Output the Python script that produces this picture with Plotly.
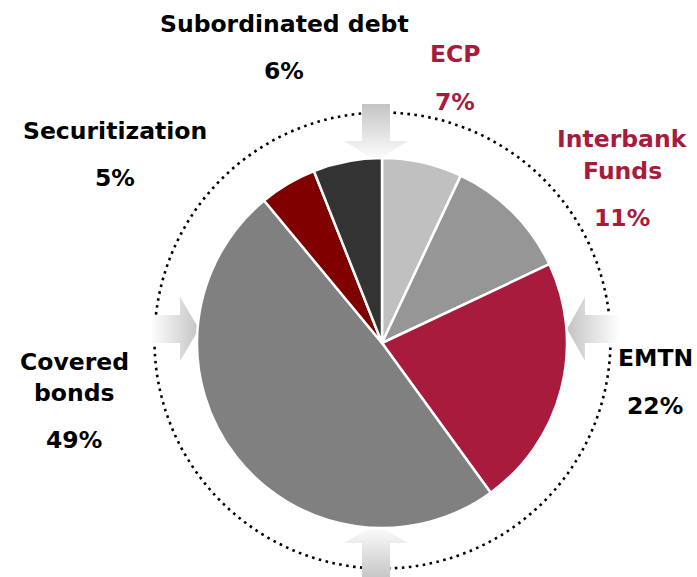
import plotly.graph_objects as go

# Funding mix
categories = ["ECP", "Interbank Funds", "EMTN", "Covered bonds", "Securitization", "Subordinated debt"]
shares = [7, 11, 22, 49, 5, 6]

slice_colors = ["#c0c0c0", "#969696", "#a81b3c", "#808080", "#800000", "#333333"]
text_colors = ["#a81b3c", "#a81b3c", "#000000", "#000000", "#000000", "#000000"]

W, H = 697, 577
CX, CY, R = 382, 343, 185  # pie centre and radius in pixels

# Label layout: (lines of name, x centre, y of each name line, y of percentage)
label_layout = {
    "ECP": (["ECP"], 455, [54], 102),
    "Interbank Funds": (["Interbank", "Funds"], 622, [139, 171], 218),
    "EMTN": (["EMTN"], 655, [358], 406),
    "Covered bonds": (["Covered", "bonds"], 74, [362, 393], 440),
    "Securitization": (["Securitization"], 115, [131], 178),
    "Subordinated debt": (["Subordinated debt"], 284, [24], 71),
}

fig = go.Figure()

# Block arrows pointing at the pie, fading from white at the tail
def arrow(xs, ys, gtype, scale):
    fig.add_trace(go.Scatter(
        x=xs, y=ys, mode="lines", fill="toself",
        line=dict(width=0, color="rgba(0,0,0,0)"),
        fillgradient=dict(type=gtype, colorscale=scale),
        hoverinfo="skip", showlegend=False,
    ))

fade_in = [[0, "#ffffff"], [1, "#c4c4c4"]]
fade_out = [[0, "#c4c4c4"], [1, "#ffffff"]]

# top (points down)
ax, sw, hw = 376, 14, 32
arrow([ax - sw, ax + sw, ax + sw, ax + hw, ax, ax - hw, ax - sw, ax - sw],
      [104, 104, 141, 141, 161, 141, 141, 104], "vertical", fade_in)
# bottom (points up)
ax = 376
arrow([ax - sw, ax + sw, ax + sw, ax + hw, ax, ax - hw, ax - sw, ax - sw],
      [580, 580, 543, 543, 524, 543, 543, 580], "vertical", fade_out)
# left (points right)
ay = 329
arrow([150, 150, 180, 180, 199, 180, 180, 150],
      [ay - sw, ay + sw, ay + sw, ay + hw, ay, ay - hw, ay - sw, ay - sw], "horizontal", fade_in)
# right (points left)
arrow([620, 620, 585, 585, 567, 585, 585, 620],
      [ay - sw, ay + sw, ay + sw, ay + hw, ay, ay - hw, ay - sw, ay - sw], "horizontal", fade_out)

fig.add_trace(go.Pie(
    labels=categories,
    values=shares,
    sort=False,
    direction="clockwise",
    rotation=0,
    marker=dict(colors=slice_colors, line=dict(color="#ffffff", width=2.5)),
    textinfo="none",
    hoverinfo="label+percent",
    showlegend=False,
    domain=dict(x=[(CX - R) / W, (CX + R) / W],
                y=[1 - (CY + R) / H, 1 - (CY - R) / H]),
))

# Dotted ring around the pie
fig.add_shape(type="circle", xref="x", yref="y",
              x0=382.5 - 228, x1=382.5 + 228, y0=340.5 - 228, y1=340.5 + 228,
              line=dict(color="#000000", width=2.6, dash="2.6px,4.4px"),
              layer="below")

font_family = "DejaVu Sans"
font_size = 23.5
for name, val, tcol in zip(categories, shares, text_colors):
    lines, lx, lys, py = label_layout[name]
    for ln, ly in zip(lines, lys):
        fig.add_annotation(x=lx, y=ly, xref="x", yref="y", text=f"<b>{ln}</b>",
                           showarrow=False, xanchor="center", yanchor="middle",
                           font=dict(family=font_family, size=font_size, color=tcol))
    fig.add_annotation(x=lx, y=py, xref="x", yref="y", text=f"<b>{val}%</b>",
                       showarrow=False, xanchor="center", yanchor="middle",
                       font=dict(family=font_family, size=font_size, color=tcol))

fig.update_layout(
    width=W, height=H,
    margin=dict(l=0, r=0, t=0, b=0),
    paper_bgcolor="#ffffff",
    plot_bgcolor="#ffffff",
    xaxis=dict(range=[0, W], visible=False, fixedrange=True),
    yaxis=dict(range=[H, 0], visible=False, fixedrange=True),
)

fig.write_html("out.html")
